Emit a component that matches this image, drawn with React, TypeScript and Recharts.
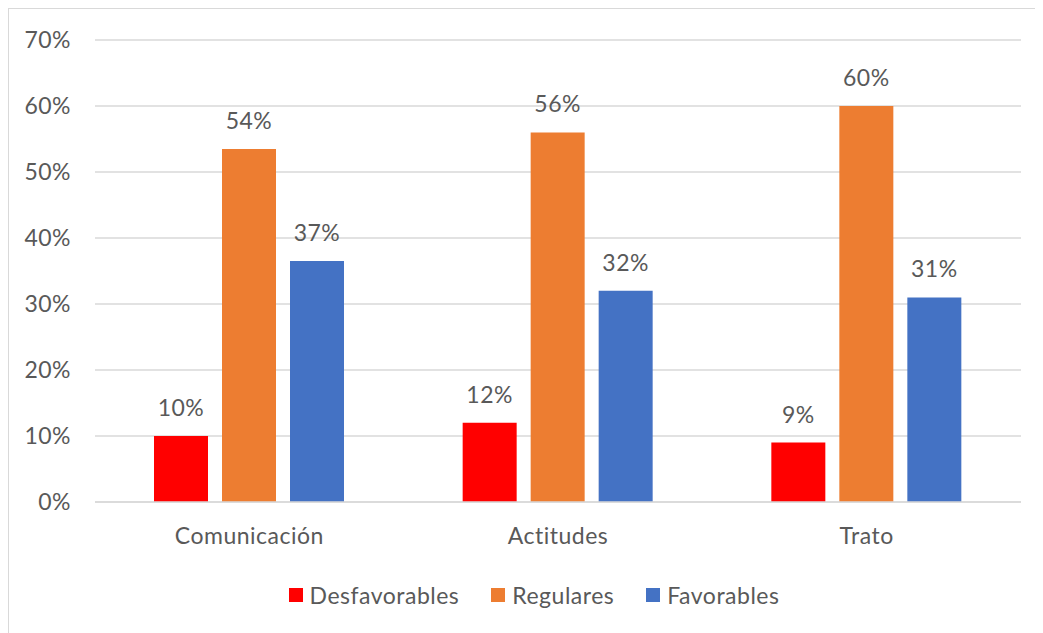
import React from "react"
import { BarChart, Bar, XAxis, YAxis, CartesianGrid, Legend, LabelList } from "recharts"

const categories = ["Comunicación", "Actitudes", "Trato"]
const desfavorables = [10, 12, 9]
const regulares = [53.5, 56, 60]
const favorables = [36.5, 32, 31]
const yTicks = [0, 10, 20, 30, 40, 50, 60, 70]

const SERIES = [
  { key: "desfavorables", name: "Desfavorables", color: "#FF0000" },
  { key: "regulares", name: "Regulares", color: "#ED7D31" },
  { key: "favorables", name: "Favorables", color: "#4472C4" },
]

const FONT = "Lato, 'Open Sans', sans-serif"
const FS = 23
const TEXT = "#595959"
const GRID = "#D9D9D9"
const tickStyle = { fill: TEXT, fontSize: FS, fontFamily: FONT, letterSpacing: 0.5 }

const data = categories.map((name, i) => ({
  name,
  desfavorables: desfavorables[i],
  regulares: regulares[i],
  favorables: favorables[i],
}))

const pct = (v: any) => `${Math.round(Number(v))}%`

function LegendContent() {
  return (
    <div style={{ height: 30, paddingLeft: 38, display: "flex", justifyContent: "center", alignItems: "center", fontFamily: FONT, fontSize: FS, letterSpacing: 0.5, color: TEXT }}>
      {SERIES.map((s, i) => (
        <div key={s.key} style={{ display: "flex", alignItems: "center", marginLeft: i === 0 ? 0 : 32 }}>
          <span style={{ width: 14, height: 14, background: s.color, display: "inline-block", marginRight: 7 }} />
          <span>{s.name}</span>
        </div>
      ))}
    </div>
  )
}

export default function App() {
  return (
    <div style={{ width: 1034, height: 624, borderTop: `1px solid ${GRID}`, borderLeft: `1px solid ${GRID}`, background: "#fff" }}>
      <BarChart
        width={1034}
        height={624}
        data={data}
        margin={{ top: 31, right: 22, bottom: 23, left: 0 }}
        barGap={14}
        barCategoryGap={59}
      >
        <CartesianGrid vertical={false} stroke={GRID} strokeWidth={1.5} />
        <XAxis
          dataKey="name"
          height={78}
          axisLine={{ stroke: GRID, strokeWidth: 1.5 }}
          tickLine={false}
          tickSize={0}
          tickMargin={26}
          tick={tickStyle}
        />
        <YAxis
          width={86}
          domain={[0, 70]}
          ticks={yTicks}
          interval={0}
          axisLine={false}
          tickLine={false}
          tickSize={0}
          tickMargin={24}
          tickFormatter={(v) => `${v}%`}
          tick={tickStyle}
        />
        <Legend verticalAlign="bottom" content={() => <LegendContent />} />
        {SERIES.map((s) => (
          <Bar key={s.key} dataKey={s.key} name={s.name} fill={s.color} isAnimationActive={false}>
            <LabelList dataKey={s.key} position="top" offset={20} formatter={pct} fill={TEXT} fontSize={FS} fontFamily={FONT} style={{ letterSpacing: 0.5 }} />
          </Bar>
        ))}
      </BarChart>
    </div>
  )
}
